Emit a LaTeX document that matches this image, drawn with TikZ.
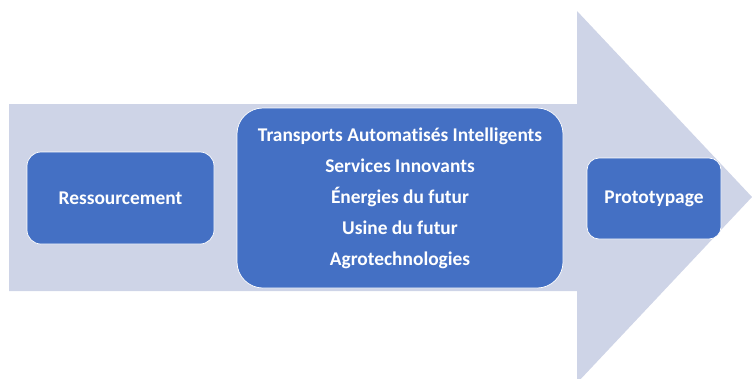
\documentclass[tikz,border=0pt]{standalone}
\usepackage{fontspec}
\setmainfont{Carlito}[Ligatures=NoCommon]
\definecolor{arrowgrey}{HTML}{CED4E7}
\definecolor{boxblue}{HTML}{4470C4}
\tikzset{
  stage/.style={draw=white, line width=0.7pt, fill=boxblue, rounded corners=#1,
    text=white, align=center, inner sep=0pt,
    font=\fontsize{19.4}{31}\selectfont\bfseries}
}

\begin{document}
\begin{tikzpicture}[x=1pt,y=-1pt]
\useasboundingbox (0,0) rectangle (752,378);
\clip (0,0) rectangle (752,378);
% big arrow behind the stages
\fill[arrowgrey] (9,104) -- (577,104) -- (577,11) -- (752,197) -- (577,383) -- (577,291) -- (9,291) -- cycle;
\node[stage=14pt, minimum width=187pt, minimum height=92pt] (ress) at (120.5,198) {Ressourcement};
\node[stage=26pt, minimum width=326pt, minimum height=180pt] (themes) at (400,198) {Transports Automatisés Intelligents\\Services Innovants\\Énergies du futur\\Usine du futur\\Agrotechnologies};
\node[stage=12pt, minimum width=134pt, minimum height=81pt] (proto) at (654,198.5) {Prototypage};
\end{tikzpicture}
\end{document}
